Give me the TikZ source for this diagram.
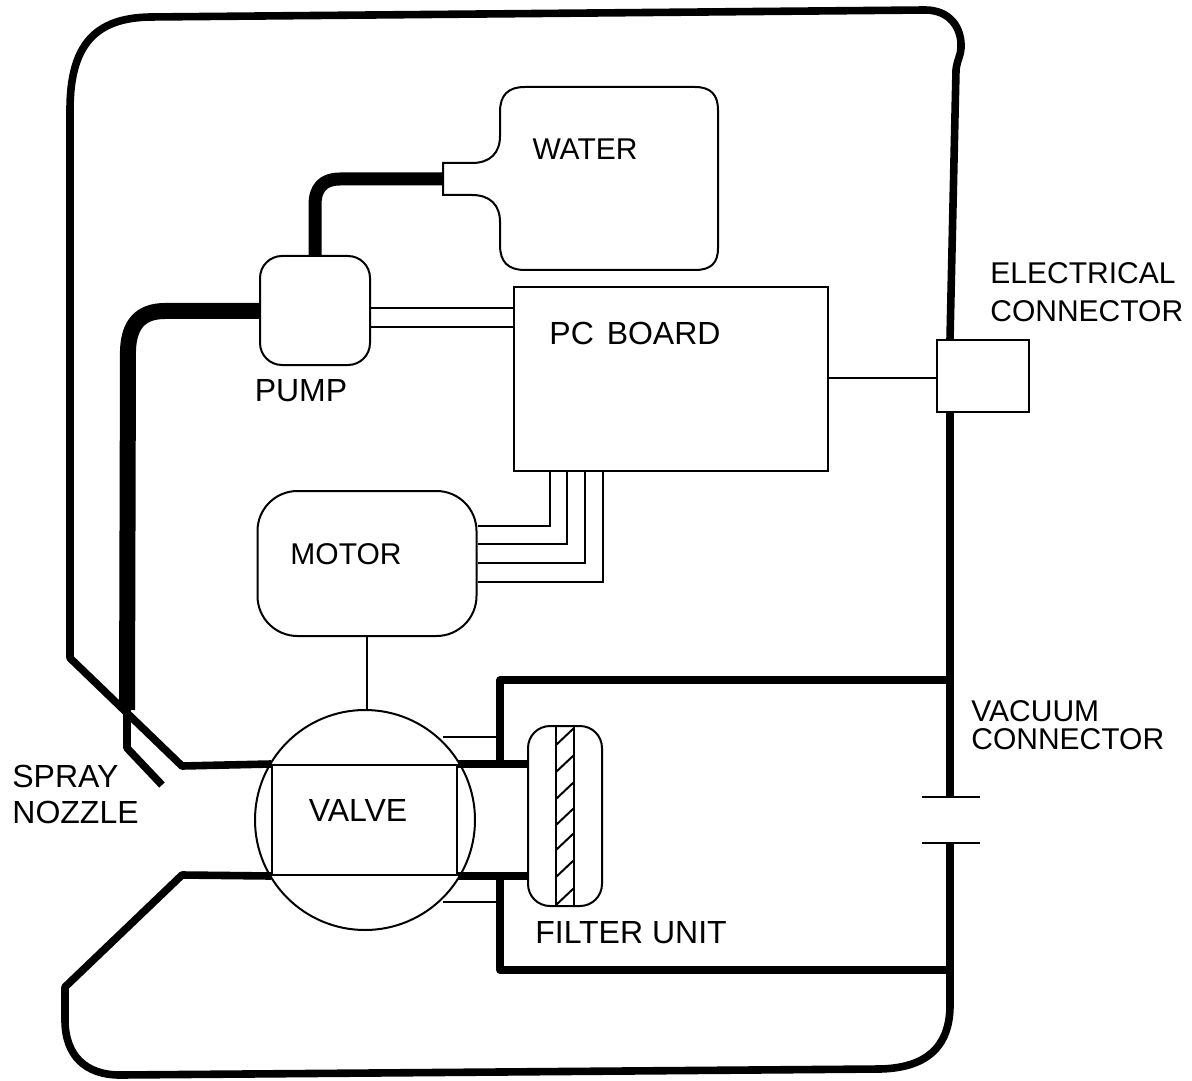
\documentclass[tikz,border=0pt]{standalone}
\usepackage{fontspec}
\setmainfont{Liberation Sans}
\usetikzlibrary{positioning,calc}

\begin{document}
\begin{tikzpicture}[x=0.5pt,y=-0.5pt,
  wall/.style={line width=3.8pt,line join=round},
  tube/.style={line width=6.5pt,line join=round},
  wire/.style={line width=1pt},
  part/.style={rectangle,draw,line width=1pt,inner sep=0pt},
  roundpart/.style={part,rounded corners=11pt},
  lbl/.style={inner sep=0pt,align=left,font=\fontsize{15}{19}\selectfont},
  lblwide/.style={inner sep=0pt,align=left,font=\fontsize{16}{18}\selectfont}]
  \useasboundingbox (0,0) rectangle (1192,1080);
  \node (pump) [roundpart,minimum width=55pt,minimum height=54.5pt] at (315,310.5) {};
  \node (board) [part,minimum width=157pt,minimum height=92pt] at (671,379) {};
  \node (motor) [roundpart,rounded corners=20pt,minimum width=109.5pt,minimum height=72.5pt] at (367,563.5) {};
  \node (elec) [part,minimum width=46pt,minimum height=36pt] at (983,376) {};
  \node (valve) [circle,draw,line width=1pt,inner sep=0pt,minimum size=110pt] at (365,820) {};
  \node (valvebox) [part,minimum width=92.5pt,minimum height=55pt] at (364.5,820) {};
  \node (filter) [roundpart,minimum width=37pt,minimum height=90pt] at (565,816) {};
  \coordinate (neck) at (443,179);
  \coordinate (nozzlebend) at (127,710);

  \draw[part] (500,112) .. controls (500,95) and (508,87) .. (525,87) -- (695,87)
    .. controls (711,87) and (718,95) .. (718,110) -- (718,248)
    .. controls (718,263) and (711,270) .. (695,270) -- (525,270)
    .. controls (508,270) and (500,262) .. (500,245) -- (500,222)
    .. controls (500,205) and (490,195) .. (472,195) -- (443,195) -- (443,163) -- (472,163)
    .. controls (490,163) and (500,153) .. (500,136) -- cycle;

  \draw[tube] (pump.north -| 315,0) -- (315,205) .. controls (315,188) and (323,179) .. (340,179) -- (neck);
  \draw[tube,line width=8pt] (pump.west |- 0,311) -- (165,311) .. controls (140,311) and (129,325) .. (128,350) -- (nozzlebend);
  \draw[wall] (nozzlebend) -- (127,748) -- (162,785);

  \draw[wall] (valvebox.north west) -- (182,766) -- (70,658) -- (70,110)
    .. controls (70,45) and (95,18) .. (150,17) -- (925,10)
    .. controls (950,10) and (962,28) .. (961,48) .. controls (961,55) and (957,60) .. (956,70) -- (elec.north -| 950,0);
  \draw[wall] (elec.south -| 950,0) -- (950,797);
  \draw[wall] (950,843) -- (950,1005)
    .. controls (950,1048) and (925,1068) .. (880,1069) -- (120,1075)
    .. controls (85,1075) and (65,1055) .. (65,1020) -- (65,987) -- (182,875) -- (valvebox.south west);

  \draw[wall] (950,680) -- (500,680) -- (500 ,765);
  \draw[wall] (valvebox.north east) -- (filter.west |- valvebox.north east);
  \draw[wall] (valvebox.south east) -- (filter.west |- valvebox.south east);
  \draw[wall] (500,875) -- (500,970) -- (950,970);
  \draw[wire] (443,737) -- (500,737);
  \draw[wire] (443,902) -- (500,902);
  \draw[line width=1.2pt] (922,797) -- (980,797);
  \draw[line width=1.2pt] (922,843) -- (980,843);

  \draw[wire] (pump.east |- 0,308) -- (board.west |- 0,308);
  \draw[wire] (pump.east |- 0,327) -- (board.west |- 0,327);
  \draw[wire] (board.east |- 0,378) -- (elec.west |- 0,378);
  \draw[wire] (motor.south) -- (motor.south |- valve.north);
  \foreach \px/\py in {550/526,567/544,585/563,603/582}{
    \draw[wire] (motor.east |- 0,\py) -| (board.south -| \px,0);
  }

  \draw[wire] (556,726) -- (556,906);
  \draw[wire] (574,726) -- (574,906);
  \foreach \y in {728,755,782,808,833,860,888}{
    \draw[wire] (574,\y) -- (556,\y+17);
  }

  \node (waterlbl) [lbl] at (585,149) {WATER};
  \node (boardlbl) [lblwide] at (635,333) {PC\hspace{2pt} BOARD};
  \node (pumplbl) [lblwide] at (301,391) {PUMP};
  \node (motorlbl) [lbl] at (346,554) {MOTOR};
  \node (valvelbl) [lblwide] at (358,810) {VALVE};
  \node (filterlbl) [lblwide] at (631,933) {FILTER UNIT};
  \node (eleclbl) [lbl,anchor=west] at (990,292) {ELECTRICAL\\CONNECTOR};
  \node (vaclbl) [lbl,anchor=west,font=\fontsize{15}{13.8}\selectfont] at (971,725) {VACUUM\\CONNECTOR};
  \node (nozzlelbl) [lblwide,anchor=west] at (12,794) {SPRAY\\NOZZLE};
\end{tikzpicture}
\end{document}
